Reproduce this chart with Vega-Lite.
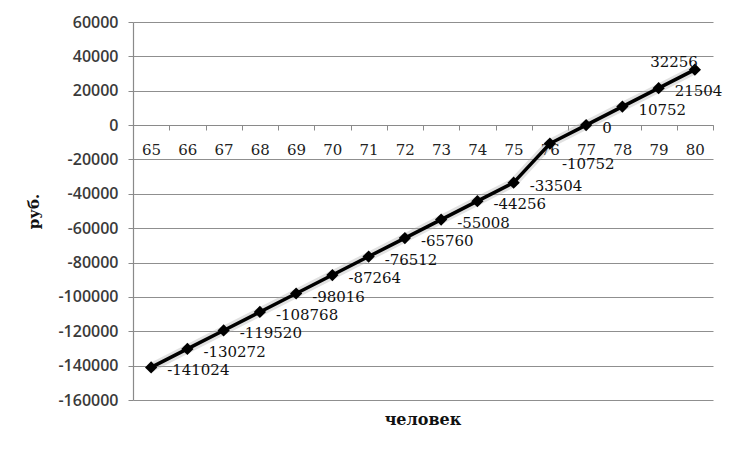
{
  "$schema": "https://vega.github.io/schema/vega-lite/v6.json",
  "width": 580,
  "height": 378,
  "autosize": {"type": "none"},
  "padding": {"left": 133, "top": 22, "right": 25, "bottom": 50},
  "background": "white",
  "config": {"view": {"stroke": null}},
  "title": {"text": "человек", "orient": "bottom", "font": "DejaVu Serif", "fontSize": 16, "fontWeight": "bold", "color": "#111", "offset": 4, "anchor": "middle"},
  "data": {"values": [
    {"n": "65", "v": -141024},
    {"n": "66", "v": -130272},
    {"n": "67", "v": -119520},
    {"n": "68", "v": -108768},
    {"n": "69", "v": -98016},
    {"n": "70", "v": -87264},
    {"n": "71", "v": -76512},
    {"n": "72", "v": -65760},
    {"n": "73", "v": -55008},
    {"n": "74", "v": -44256},
    {"n": "75", "v": -33504},
    {"n": "76", "v": -10752},
    {"n": "77", "v": 0},
    {"n": "78", "v": 10752},
    {"n": "79", "v": 21504},
    {"n": "80", "v": 32256}
  ]},
  "encoding": {
    "x": {"field": "n", "type": "ordinal", "bandPosition": 0.5,
      "scale": {"type": "band", "paddingInner": 0, "paddingOuter": 0},
      "axis": {"title": null, "orient": "bottom", "offset": -275, "labelAngle": 0, "tickBand": "extent",
        "domainColor": "#8a8a8a", "domainWidth": 1.2, "tickColor": "#8a8a8a", "tickSize": 5,
        "labelFont": "DejaVu Serif", "labelFontSize": 15, "labelColor": "#222", "labelPadding": 12, "grid": false}},
    "y": {"field": "v", "type": "quantitative",
      "scale": {"domain": [-160000, 60000], "nice": false, "zero": false},
      "axis": {"title": "руб.", "values": [-160000, -140000, -120000, -100000, -80000, -60000, -40000, -20000, 0, 20000, 40000, 60000],
        "labelExpr": "'' + datum.value", "labelFont": "Open Sans", "labelFontSize": 16, "labelFontWeight": 600, "labelColor": "#3a3a3a",
        "labelPadding": 10, "tickSize": 5, "tickColor": "#8a8a8a", "domainColor": "#8a8a8a", "domainWidth": 1.2,
        "grid": true, "gridColor": "#8f8f8f", "gridWidth": 1.2,
        "titleFont": "DejaVu Serif", "titleFontSize": 15, "titleFontWeight": "bold", "titleColor": "#111",
        "titleX": -92, "titleAngle": -90}}
  },
  "layer": [
    {"mark": {"type": "line", "stroke": "#aaaaaa", "strokeWidth": 9, "opacity": 0.35}},
    {"mark": {"type": "line", "stroke": "#000", "strokeWidth": 3.5}},
    {"mark": {"type": "point", "shape": "diamond", "filled": true, "color": "#000", "size": 150, "opacity": 1}},
    {"transform": [{"filter": "datum.n != '76' && datum.n != '80'"}],
      "mark": {"type": "text", "align": "left", "baseline": "middle", "dx": 16, "dy": 3, "font": "DejaVu Serif", "fontSize": 15, "color": "#111"},
      "encoding": {"text": {"field": "v", "type": "nominal"}}},
    {"transform": [{"filter": "datum.n == '76'"}],
      "mark": {"type": "text", "align": "left", "baseline": "middle", "dx": 12, "dy": 20, "font": "DejaVu Serif", "fontSize": 15, "color": "#111"},
      "encoding": {"text": {"field": "v", "type": "nominal"}}},
    {"transform": [{"filter": "datum.n == '80'"}],
      "mark": {"type": "text", "align": "right", "baseline": "middle", "dx": 3, "dy": -8, "font": "DejaVu Serif", "fontSize": 15, "color": "#111"},
      "encoding": {"text": {"field": "v", "type": "nominal"}}}
  ]
}
